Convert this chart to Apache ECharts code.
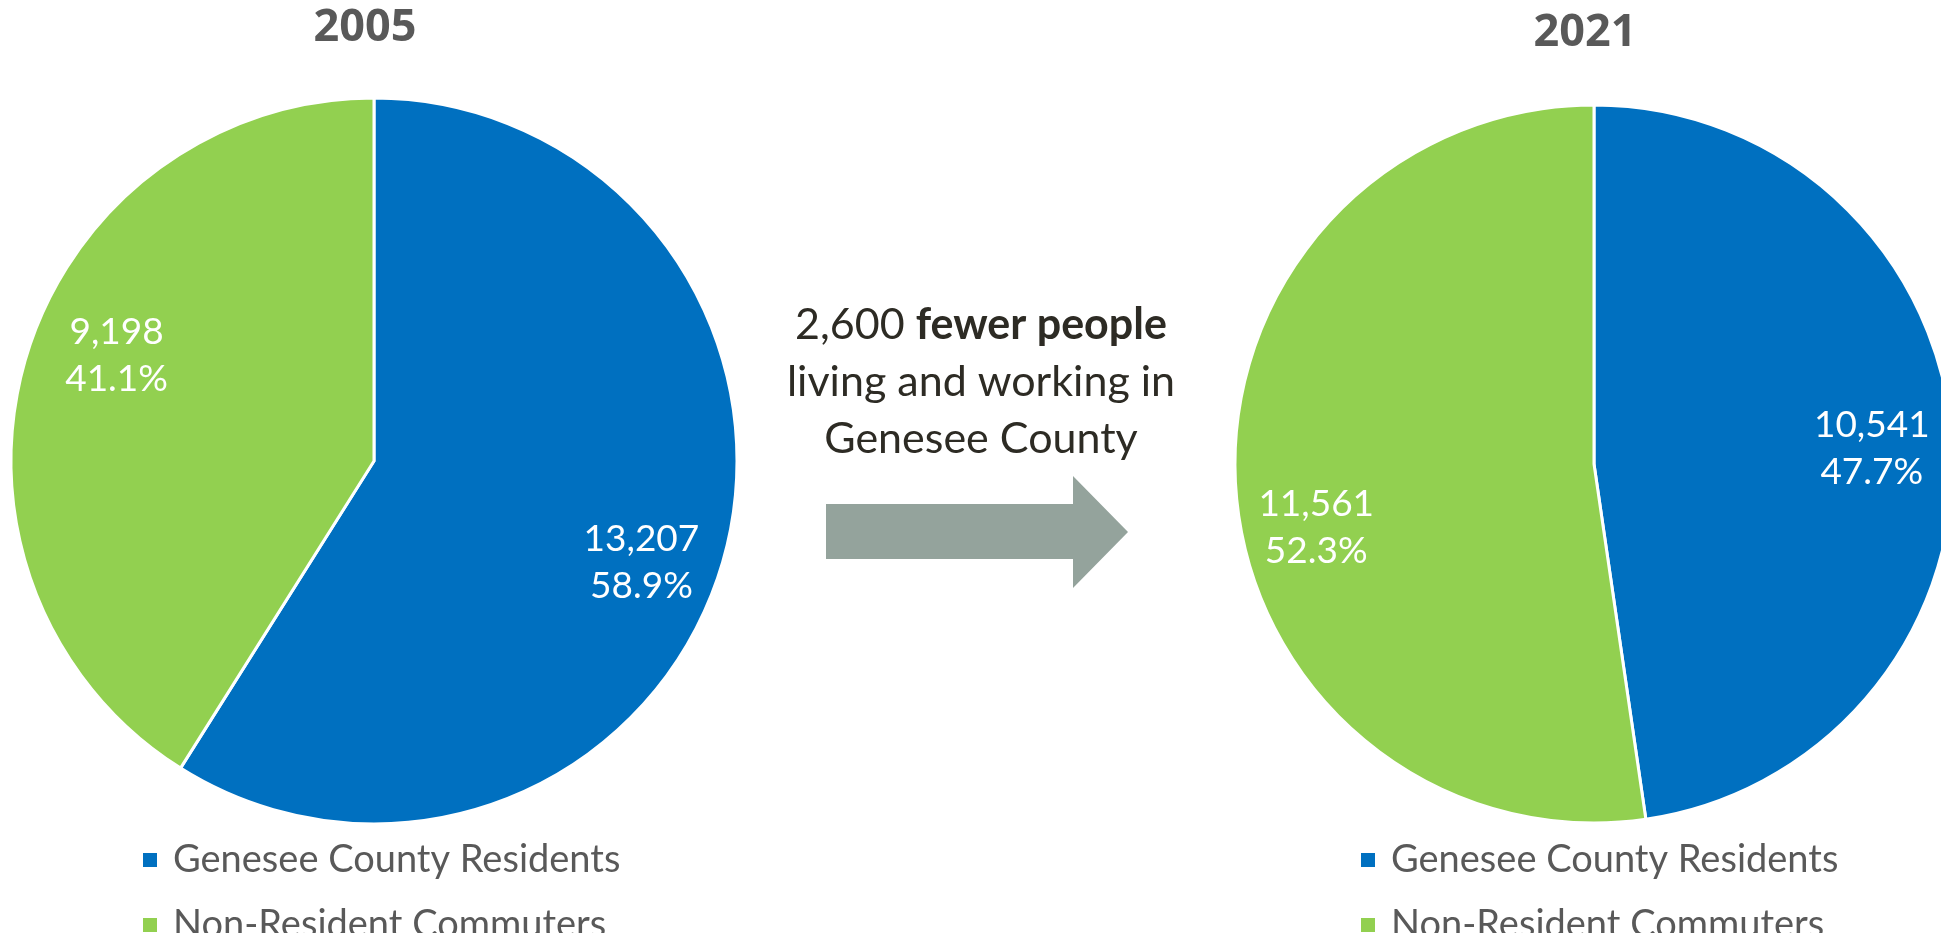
<!DOCTYPE html>
<html>
<head>
<meta charset="utf-8">
<script src="https://cdn.jsdelivr.net/npm/echarts@6/dist/echarts.min.js"></script>
<style>
  html, body { margin: 0; padding: 0; background: #ffffff; }
  #chart { width: 1941px; height: 933px; }
</style>
</head>
<body>
<div id="chart"></div>
<script>
// Workers in jobs located in Genesee County, by where they live
const categories = ['Genesee County Residents', 'Non-Resident Commuters'];
const years = ['2005', '2021'];
const values2005 = [13207, 9198];
const values2021 = [10541, 11561];
const headlineNumber = '2,600';
const headlineBold = 'fewer people';
const headlineRest = ['living and working in', 'Genesee County'];

// ---- styling ----
const COLORS = ['#0070C0', '#92D050'];
const FONT = 'Lato, "Noto Sans", sans-serif';
const TITLE_FONT = '"Open Sans", "Noto Sans", sans-serif';
const GREY = '#595959';

const pies = [
  { year: years[0], values: values2005, center: [374, 461], r: 363, labelR: [196, 363],
    nudge: [[-4, 23], [14, -27]], titleAt: [365, 28], legendLeft: 141 },
  { year: years[1], values: values2021, center: [1594, 464], r: 359, labelR: [192, 359],
    nudge: [[0, 5], [0, 43]], titleAt: [1585, 33], legendLeft: 1359 }
];

const fmt = v => v.toLocaleString('en-US');

const series = [];
pies.forEach(p => {
  const total = p.values.reduce((a, b) => a + b, 0);
  const data = categories.map((name, i) => ({
    name, value: p.values[i], itemStyle: { color: COLORS[i] }
  }));
  // the slices
  series.push({
    type: 'pie',
    center: p.center,
    radius: [0, p.r],
    startAngle: 90,
    clockwise: true,
    avoidLabelOverlap: false,
    label: { show: false },
    labelLine: { show: false },
    itemStyle: { borderColor: '#ffffff', borderWidth: 3 },
    emphasis: { scale: false },
    data
  });
  // value / share labels placed in the outer part of each slice
  series.push({
    type: 'pie',
    center: p.center,
    radius: p.labelR,
    startAngle: 90,
    clockwise: true,
    silent: true,
    avoidLabelOverlap: false,
    itemStyle: { color: 'rgba(0,0,0,0)', borderWidth: 0 },
    labelLine: { show: false },
    emphasis: { disabled: true },
    label: {
      show: true,
      position: 'inside',
      color: '#ffffff',
      fontFamily: FONT,
      fontSize: 37,
      lineHeight: 47,
      align: 'center',
      formatter: d => fmt(d.value) + '\n' + (d.value / total * 100).toFixed(1) + '%'
    },
    labelLayout: d => ({ dx: p.nudge[d.dataIndex][0], dy: p.nudge[d.dataIndex][1] }),
    data: categories.map((name, i) => ({ name, value: p.values[i] }))
  });
});

const legends = pies.map(p => ({
  data: categories,
  orient: 'vertical',
  left: p.legendLeft,
  top: 840,
  height: 140,
  padding: 0,
  icon: 'rect',
  itemWidth: 16,
  itemHeight: 16,
  itemGap: 25,
  selectedMode: false,
  textStyle: {
    fontFamily: FONT,
    fontSize: 38,
    lineHeight: 40,
    color: GREY,
    padding: [0, 0, 0, 10]
  }
}));

const graphic = [];
pies.forEach(p => {
  graphic.push({
    type: 'text',
    x: p.titleAt[0], y: p.titleAt[1],
    style: {
      text: p.year, fill: GREY, fontFamily: TITLE_FONT, fontWeight: 'bold',
      fontSize: 45, textAlign: 'center', textVerticalAlign: 'middle'
    }
  });
});
// change annotation and arrow between the two pies
graphic.push({
  type: 'text',
  x: 981, y: 297,
  style: {
    text: '{n|' + headlineNumber + ' }{b|' + headlineBold + '}\n' +
          headlineRest.map(t => '{n|' + t + '}').join('\n'),
    textAlign: 'center',
    textVerticalAlign: 'top',
    rich: {
      n: { fontFamily: FONT, fontSize: 43, lineHeight: 57, fill: '#2d2b24', color: '#2d2b24' },
      b: { fontFamily: FONT, fontSize: 43, lineHeight: 57, fontWeight: 'bold', fill: '#2d2b24', color: '#2d2b24' }
    }
  }
});
graphic.push({
  type: 'polygon',
  shape: {
    points: [[826, 504], [1073, 504], [1073, 476], [1128, 532], [1073, 588], [1073, 559], [826, 559]]
  },
  style: { fill: '#94A39C' },
  silent: true
});

const chart = echarts.init(document.getElementById('chart'), null, { renderer: 'canvas' });
chart.setOption({
  backgroundColor: '#ffffff',
  animation: false,
  legend: legends,
  series,
  graphic
});
</script>
</body>
</html>
